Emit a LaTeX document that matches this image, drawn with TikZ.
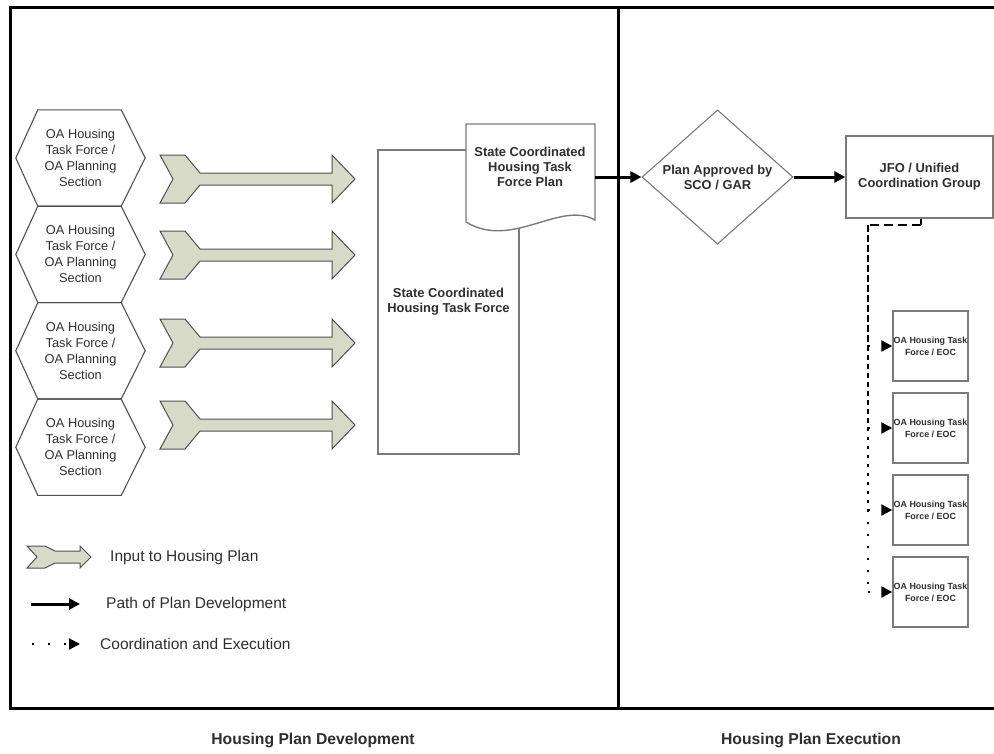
\documentclass[tikz,border=0pt]{standalone}
\usepackage{fontspec}
\setmainfont{Liberation Sans}
\usetikzlibrary{positioning, shapes.geometric, arrows.meta}

\definecolor{chevfill}{HTML}{D7DAC7}
\definecolor{chevline}{HTML}{505050}
\definecolor{boxline}{HTML}{7A7A7A}
\definecolor{txt}{HTML}{2E2E2E}

\tikzset{
  hexbox/.style = {minimum width=129, minimum height=96, inner sep=0, align=center,
                   text=txt, font=\fontsize{12.8}{16}\selectfont},
  boldtext/.style = {align=center, inner sep=0, text=txt,
                     font=\bfseries\fontsize{12.9}{15}\selectfont},
  plainbox/.style = {draw=boxline, line width=1.4, fill=white, boldtext},
  eocbox/.style = {plainbox, minimum width=75, minimum height=70,
                   font=\bfseries\fontsize{8.9}{12}\selectfont},
  legendtext/.style = {anchor=west, inner sep=0, text=txt, font=\fontsize{15.5}{18}\selectfont},
  sidetext/.style = {inner sep=0, text=txt, font=\bfseries\fontsize{15.7}{18}\selectfont},
  pathline/.style = {line width=3, -{Triangle[length=11,width=11]}},
  coordline/.style = {line width=2.2, dash pattern=on 2 off 14, -{Triangle[length=11,width=11]}},
  pics/inputarrow/.style = {code={
    \draw[chevline, fill=chevfill, line width=1] (0,-24) -- (25,-24) -- (40,-6) -- (172,-6)
      -- (172,-24) -- (195,0) -- (172,24) -- (172,6) -- (40,6) -- (25,24) -- (0,24)
      -- (13,0) -- cycle;
  }}
}

\begin{document}
\begin{tikzpicture}[x=1pt, y=-1pt]
  \useasboundingbox (0,0) rectangle (994,753);

  % frame
  \draw[line width=3] (994,7) -- (10,7) -- (10,708) -- (994,708);
  \draw[line width=3] (618,7) -- (618,708);

  % OA inputs
  \node[hexbox] (oa1) at (80.5,158) {OA Housing\\Task Force /\\OA Planning\\Section};
  \node[hexbox, below=0 of oa1] (oa2) {OA Housing\\Task Force /\\OA Planning\\Section};
  \node[hexbox, below=0 of oa2] (oa3) {OA Housing\\Task Force /\\OA Planning\\Section};
  \node[hexbox, below=0 of oa3] (oa4) {OA Housing\\Task Force /\\OA Planning\\Section};
  \foreach \i in {1,...,4}
    \draw[chevline, line width=1.1] (oa\i.west) -- ([xshift=22]oa\i.north west)
      -- ([xshift=-24]oa\i.north east) -- (oa\i.east) -- ([xshift=-24]oa\i.south east)
      -- ([xshift=22]oa\i.south west) -- cycle;

  \foreach \y in {179,255,343,425}
    \pic at (160,\y) {inputarrow};

  % state task force and plan
  \node[plainbox, minimum width=141, minimum height=304] (taskforce) at (448.5,302)
    {State Coordinated\\Housing Task Force};
  \draw[boxline, line width=1.4, fill=white] (466,124) -- (595,124) -- (595,220)
    .. controls (560,200) and (512,250) .. (466,222) -- cycle;
  \node[boldtext] (plan) at (530,167) {State Coordinated\\Housing Task\\Force Plan};
  \coordinate (planout) at (595,177);

  % execution
  \node[diamond, draw=boxline, line width=1.1, minimum width=151, minimum height=120,
        inner sep=0, boldtext] (approve) at (717.5,177) {Plan Approved by\\SCO / GAR};
  \node[plainbox, minimum width=147, minimum height=82] (jfo) at (919.5,177)
    {JFO / Unified\\Coordination Group};

  \draw[pathline] (planout) -- (approve.west);
  \draw[pathline] (approve.east) -- (jfo.west);

  \node[eocbox] (eoc1) at (930.5,346) {OA Housing Task\\Force / EOC};
  \node[eocbox] (eoc2) at (930.5,428) {OA Housing Task\\Force / EOC};
  \node[eocbox] (eoc3) at (930.5,510) {OA Housing Task\\Force / EOC};
  \node[eocbox] (eoc4) at (930.5,592) {OA Housing Task\\Force / EOC};

  \coordinate (drop) at (921,225);
  \coordinate (bend) at (868,225);
  \draw[line width=2.5] (jfo.south -| drop) -- (drop);
  \draw[line width=2.5, dash pattern=on 9 off 5] (drop) -- (bend);
  \draw[line width=2.5, dash pattern=on 7 off 3] (bend) -- (bend |- eoc1.west);
  \draw[line width=2.5, dash pattern=on 5 off 4] (bend |- eoc1.west) -- (bend |- eoc2.west);
  \draw[line width=2.5, dash pattern=on 3 off 6] (bend |- eoc2.west) -- (bend |- eoc3.west);
  \draw[line width=2.5, dash pattern=on 2 off 10] (bend |- eoc3.west) -- (bend |- eoc4.west);
  \foreach \i in {1,...,4}
    \draw[coordline] (bend |- eoc\i.west) -- (eoc\i.west);

  % legend
  \draw[chevline, fill=chevfill, line width=1] (27,546) -- (45,546) -- (55,551) -- (80,551)
    -- (80,546) -- (91,557) -- (80,568) -- (80,563) -- (55,563) -- (45,568) -- (27,568)
    -- (37,557) -- cycle;
  \node[legendtext] (leginput) at (110,557) {Input to Housing Plan};
  \node[legendtext] (legpath) at (106,604) {Path of Plan Development};
  \node[legendtext] (legcoord) at (100,644) {Coordination and Execution};
  \coordinate (pathstart) at (31,604);
  \coordinate (coordstart) at (32,644);
  \draw[pathline] (pathstart) -- ++(49,0);
  \draw[coordline] (coordstart) -- ++(48,0);

  % section titles
  \node[sidetext] (devtitle) at (313,740) {Housing Plan Development};
  \node[sidetext] (exectitle) at (811,740) {Housing Plan Execution};
\end{tikzpicture}
\end{document}
